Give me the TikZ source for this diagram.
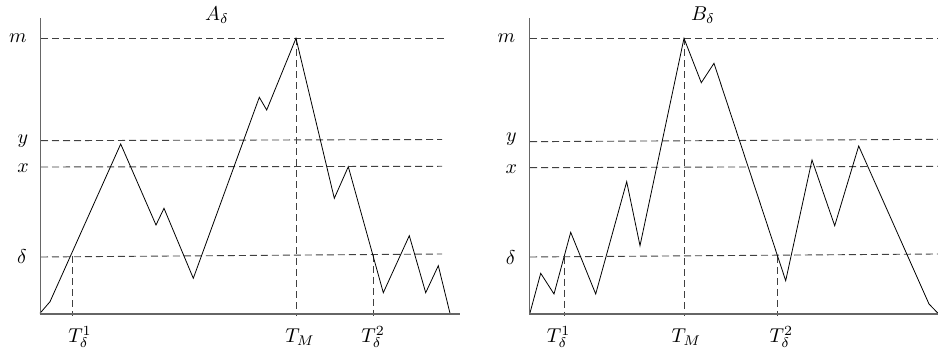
\documentclass[tikz,border=0pt]{standalone}
\begin{document}
\begin{tikzpicture}[x=0.5pt,y=-0.5pt,
  axisline/.style={draw=black!60,line width=0.6pt},
  guide/.style={draw=black!75,line width=0.45pt,dash pattern=on 3.5pt off 2pt},
  walk/.style={draw=black,line width=0.4pt,line join=miter},
  lbl/.style={inner sep=0pt,font=\normalsize}]
\useasboundingbox (0,0) rectangle (938,351);
% ---------------- Left panel A_delta ----------------
\coordinate (Ao) at (40.5,314);
\coordinate (Atop) at (40.5,18);
\coordinate (Aend) at (460,314);
\draw[guide] (41,38.3) -- (447,38.3);
\draw[guide] (41,140.7) -- (442,139.5);
\draw[guide] (41,167) -- (442,166.3);
\draw[guide] (41,257) -- (442,254);
\draw[guide] (72.7,256.5) -- (72.7,316.5);
\draw[guide] (296,38.3) -- (296,316.5);
\draw[guide] (373.3,255) -- (373.3,316.5);
\draw[walk] (40,313.3) -- (50,301.7) -- (120.7,144) -- (156,225) -- (164,208.3)
  -- (193.3,278.3) -- (259.3,97.3) -- (266.7,110) -- (296,38.3) -- (334.3,198.3)
  -- (348.3,166.7) -- (383.3,292.7) -- (409.3,235.7) -- (425.7,292.7)
  -- (438.3,265.7) -- (450,313.3);
\draw[axisline] (Atop) -- (Ao) -- (Aend);
\node[lbl] (Atitle) at (217,15) {$A_\delta$};
\node[lbl] (Am) at (18,38) {$m$};
\node[lbl] (Ay) at (23,141) {$y$};
\node[lbl] (Ax) at (23,168) {$x$};
\node[lbl] (Ad) at (22,257) {$\delta$};
\node[lbl] (AT1) at (80,337) {$T_\delta^1$};
\node[lbl] (ATM) at (300,337) {$T_M$};
\node[lbl] (AT2) at (373,337) {$T_\delta^2$};
% ---------------- Right panel B_delta ----------------
\coordinate (Bo) at (529.7,314);
\coordinate (Btop) at (529.7,18);
\coordinate (Bend) at (938,314);
\draw[guide] (530,38.3) -- (938,38.3);
\draw[guide] (530,141.7) -- (938,139.3);
\draw[guide] (530,167.7) -- (938,166.3);
\draw[guide] (530,257) -- (938,254);
\draw[guide] (564.7,256.7) -- (564.7,316.5);
\draw[guide] (684,38.3) -- (684,316.5);
\draw[guide] (777.3,256) -- (777.3,316.5);
\draw[walk] (529.7,314) -- (540.7,273.3) -- (554,294) -- (570.7,232.3)
  -- (595.7,294) -- (626.7,181.7) -- (640,245.7) -- (684,38.3) -- (701.3,82.7)
  -- (714,63.3) -- (785.7,280.7) -- (812,160) -- (834.7,225.7) -- (858.7,146)
  -- (929,304) -- (938,313.3);
\draw[axisline] (Btop) -- (Bo) -- (Bend);
\node[lbl] (Btitle) at (703,15) {$B_\delta$};
\node[lbl] (Bm) at (506.3,38) {$m$};
\node[lbl] (By) at (511.3,139) {$y$};
\node[lbl] (Bx) at (511.3,169) {$x$};
\node[lbl] (Bd) at (510.7,258) {$\delta$};
\node[lbl] (BT1) at (558.7,337) {$T_\delta^1$};
\node[lbl] (BTM) at (686.3,337) {$T_M$};
\node[lbl] (BT2) at (781.3,337) {$T_\delta^2$};
\end{tikzpicture}
\end{document}
